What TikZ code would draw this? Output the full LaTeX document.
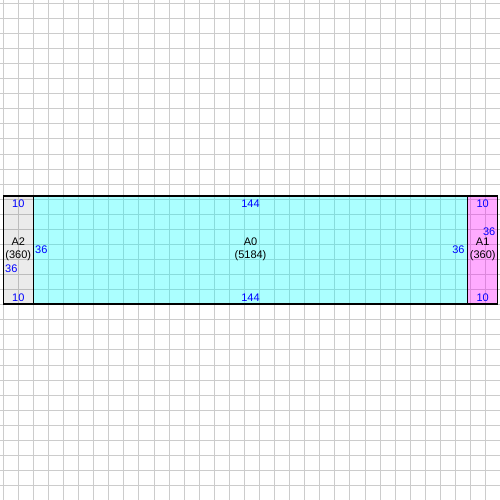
\documentclass[tikz,border=0pt]{standalone}
\usepackage{fontspec}
\setmainfont{Liberation Sans}
\definecolor{cyfill}{RGB}{0,255,255}
\definecolor{mgfill}{RGB}{255,0,255}
\definecolor{gridgray}{RGB}{204,204,204}
\definecolor{dimblue}{RGB}{0,0,255}
\begin{document}
\begin{tikzpicture}[x=1pt,y=-1pt, font=\fontsize{11}{12.7}\selectfont,
  gridline/.style={draw=gridgray, line width=1pt},
  box/.style={draw=black, line width=1.2pt, inner sep=0pt, outer sep=0pt, anchor=north west, minimum height=108pt},
  dimlbl/.style={text=dimblue, inner sep=0pt},
  namelbl/.style={align=center, inner sep=0pt, text=black}]
\useasboundingbox (0,0) rectangle (500,500);
\fill[white] (0,0) rectangle (500,500);
\foreach \k in {0,...,32} {
  \draw[gridline] ({3.33+15.07*\k},0) -- ({3.33+15.07*\k},500);
  \draw[gridline] (0,{3.33+15.07*\k}) -- (500,{3.33+15.07*\k});
}
\node[box, fill=black, fill opacity=0.08, minimum width=30pt] (a2) at (3.33,196) {};
\node[box, fill=cyfill, fill opacity=0.33, minimum width=434.4pt] (a0) at (33.33,196) {};
\node[box, fill=mgfill, fill opacity=0.33, minimum width=30pt] (a1) at (467.73,196) {};
% A2 labels
\node[dimlbl] (a2t) at (18.3,203.3) {10};
\node[dimlbl] (a2b) at (18.3,297.3) {10};
\node[namelbl] (a2n) at (18.3,249) {A2\\(360)};
\node[dimlbl, anchor=west] (a2h) at (5,268.3) {36};
% A0 labels
\node[dimlbl] (a0t) at (250.5,203.3) {144};
\node[dimlbl] (a0b) at (250.5,297.3) {144};
\node[namelbl] (a0n) at (250.5,249.5) {A0\\(5184)};
\node[dimlbl, anchor=west] (a0l) at (35,250) {36};
\node[dimlbl, anchor=east] (a0r) at (464.8,250) {36};
% A1 labels
\node[dimlbl] (a1t) at (482.7,203.3) {10};
\node[dimlbl] (a1b) at (482.7,297.3) {10};
\node[namelbl] (a1n) at (482.7,249.5) {A1\\(360)};
\node[dimlbl, anchor=east] (a1h) at (495.5,232.2) {36};
\end{tikzpicture}
\end{document}
